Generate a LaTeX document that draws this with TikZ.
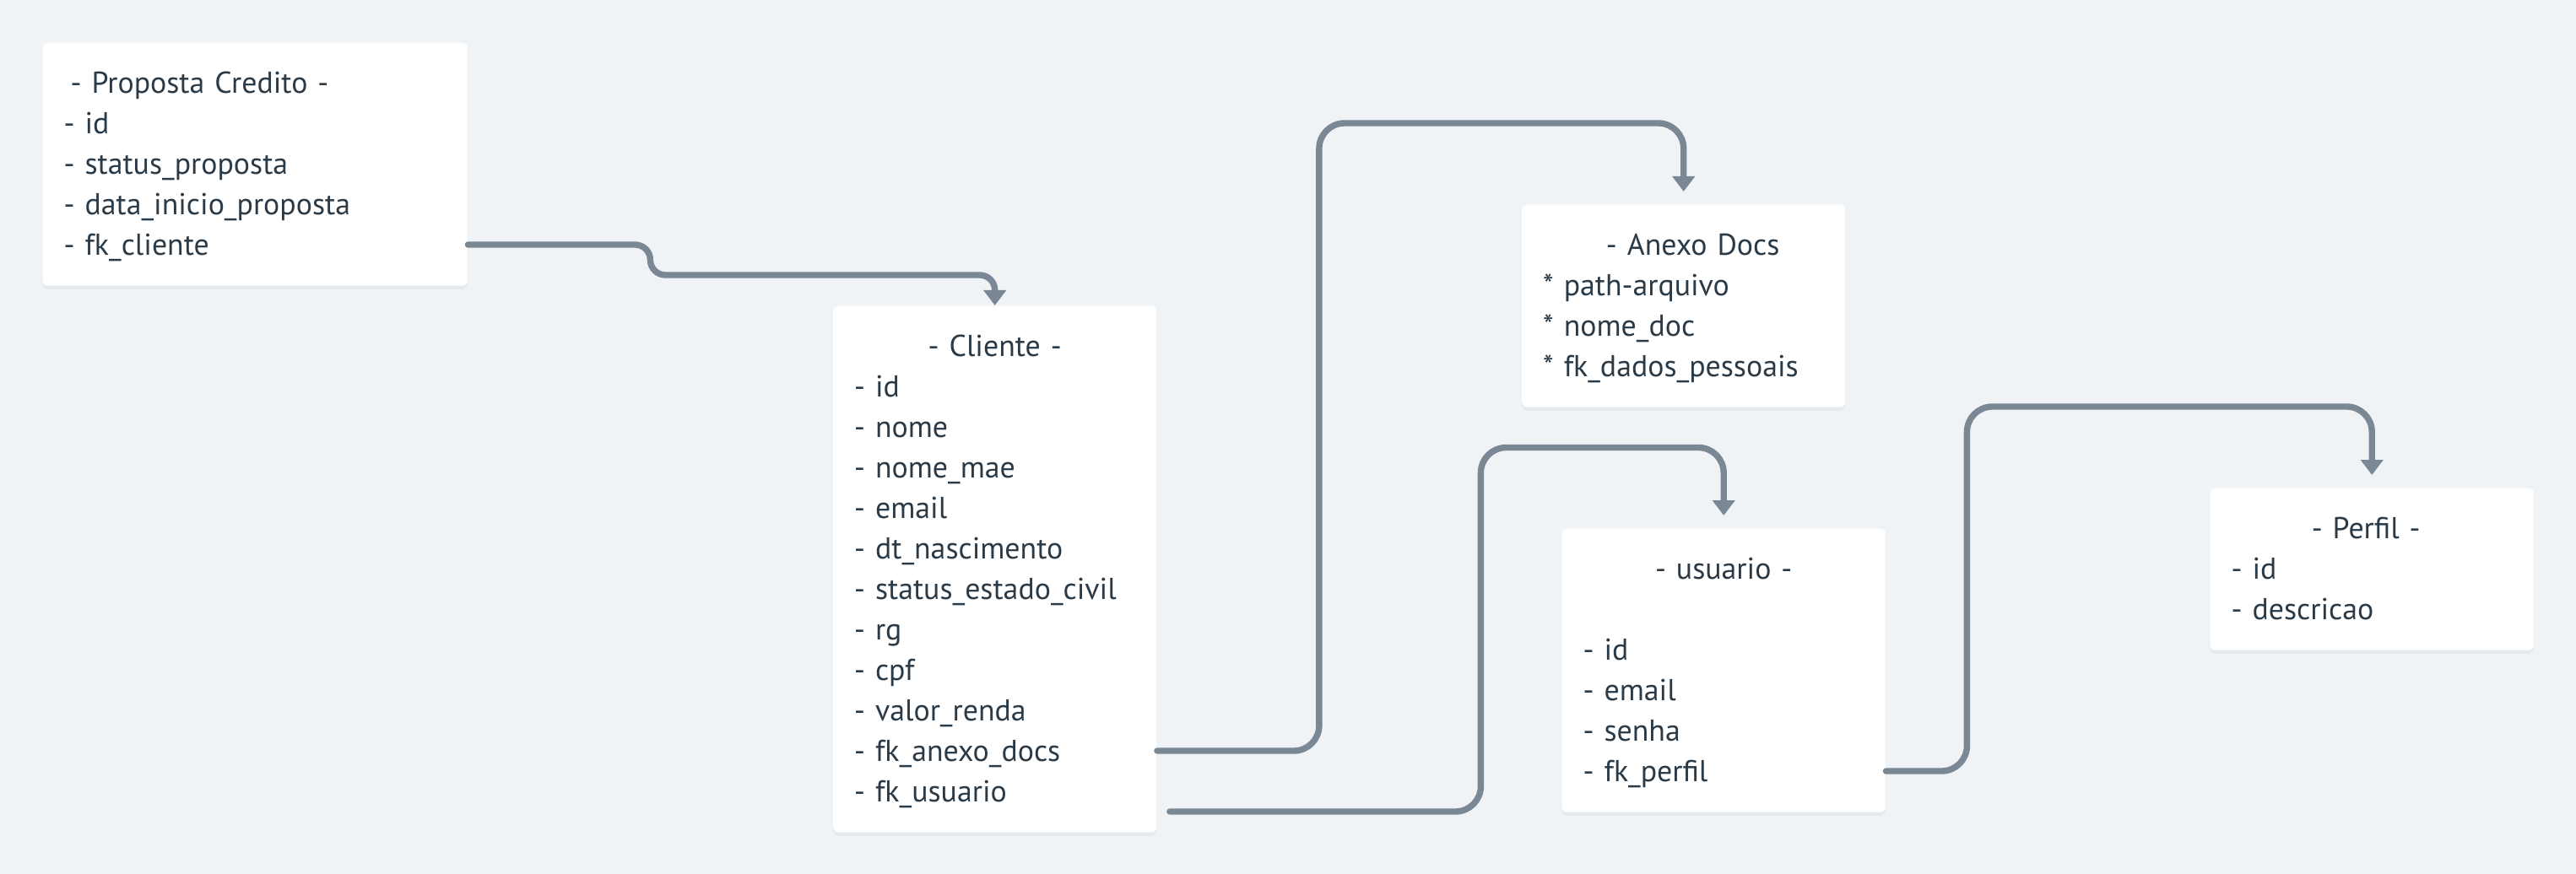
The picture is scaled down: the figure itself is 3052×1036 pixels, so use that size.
\documentclass[tikz,border=0pt]{standalone}
\usepackage{fontspec}
\setmainfont{PT Sans}
\usetikzlibrary{arrows.meta,calc,shadows}

\definecolor{bgcol}{HTML}{F0F3F6}
\definecolor{linkcol}{HTML}{7A8794}
\definecolor{txtcol}{HTML}{2B3A47}

\newcommand{\rowstrut}{\rule[-1.2mm]{0pt}{4.8mm}}
\newcommand{\tblhead}[1]{\rowstrut\makebox[\hsize]{#1}}

\tikzset{
  tbl/.style={anchor=north west, fill=white, rounded corners=0.6mm,
    inner xsep=2.5mm, inner ysep=2.4mm, align=left, text=txtcol,
    font=\fontsize{10.2pt}{4.8mm}\selectfont,
    drop shadow={shadow xshift=0mm, shadow yshift=-0.4mm, opacity=0.04, fill=black}},
  link/.style={draw=linkcol, line width=0.74mm, line cap=round,
    rounded corners=3mm, -{Triangle[width=2.6mm, length=1.8mm]}}
}

\begin{document}
\begin{tikzpicture}[x=0.1mm,y=-0.1mm]
    \useasboundingbox (0,0) rectangle (3052,1036);
    \fill [bgcol] (0,0) rectangle (3052,1036);

    % tables
    \node (proposta) [tbl, text width=45.3mm] at (50,50) {%
      \rowstrut\hspace*{0.8mm}- Proposta Credito -\\
      \rowstrut- id\\
      \rowstrut- status\_proposta\\
      \rowstrut- data\_inicio\_proposta\\
      \rowstrut- fk\_cliente};
    \node (cliente) [tbl, text width=33.3mm] at (986.5,362) {%
      \tblhead{- Cliente -}\\
      \rowstrut- id\\
      \rowstrut- nome\\
      \rowstrut- nome\_mae\\
      \rowstrut- email\\
      \rowstrut- dt\_nascimento\\
      \rowstrut- status\_estado\_civil\\
      \rowstrut- rg\\
      \rowstrut- cpf\\
      \rowstrut- valor\_renda\\
      \rowstrut- fk\_anexo\_docs\\
      \rowstrut- fk\_usuario};
    \node (anexo) [tbl, text width=33.3mm] at (1802.5,242) {%
      \tblhead{\hspace{2.2mm}- Anexo Docs}\\
      \rowstrut* path-arquivo\\
      \rowstrut* nome\_doc\\
      \rowstrut* fk\_dados\_pessoais};
    \node (usuario) [tbl, text width=33.3mm] at (1850,626) {%
      \tblhead{- usuario -}\\
      \rowstrut\\
      \rowstrut- id\\
      \rowstrut- email\\
      \rowstrut- senha\\
      \rowstrut- fk\_perfil};
    \node (perfil) [tbl, text width=33.3mm] at (2618,578) {%
      \tblhead{- Perfil -\hspace{1.4mm}}\\
      \rowstrut- id\\
      \rowstrut- descricao};

    % foreign keys
    \draw [link, rounded corners=1.8mm] ($(proposta.north east)+(0,240)$)
      -- ++(216,0) -- ++(0,36) -| (cliente.north);
    \draw [link] ($(cliente.north east)+(0,528)$) -- ++(192,0)
      |- ($(anexo.north)+(0,-96)$) -- ($(anexo.north)+(0,-15)$);
    \draw [link] ($(cliente.north east)+(15,600)$) -- ++(368.5,0)
      |- ($(usuario.north)+(0,-95.5)$) -- ($(usuario.north)+(0,-15)$);
    \draw [link] ($(usuario.north east)+(0,288)$) -- ++(96,0)
      |- ($(perfil.north)+(0,-96)$) -- ($(perfil.north)+(0,-15)$);
\end{tikzpicture}
\end{document}
